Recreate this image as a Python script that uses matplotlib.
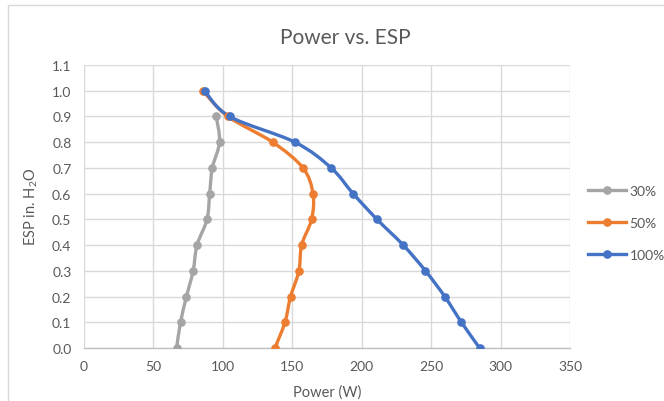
import numpy as np
import matplotlib
matplotlib.use("Agg")
import matplotlib.pyplot as plt
from matplotlib.path import Path
from matplotlib.patches import PathPatch, Rectangle
from matplotlib.lines import Line2D

plt.rcParams['font.family'] = ['Lato', 'DejaVu Sans']
plt.rcParams['mathtext.fontset'] = 'custom'
plt.rcParams['mathtext.rm'] = 'Lato'

# ESP (in. H2O) levels
esp_30 = [0.0, 0.1, 0.2, 0.3, 0.4, 0.5, 0.6, 0.7, 0.8, 0.9]
esp_50 = [0.0, 0.1, 0.2, 0.3, 0.4, 0.5, 0.6, 0.7, 0.8, 0.9, 1.0]
esp_100 = [0.0, 0.1, 0.2, 0.3, 0.4, 0.5, 0.6, 0.7, 0.8, 0.9, 1.0]

# Power (W)
power_30 = [66.7, 69.5, 73.8, 78.6, 81.4, 88.6, 90.5, 92.4, 97.6, 95.2]
power_50 = [137.5, 144.7, 148.8, 154.8, 156.7, 163.9, 164.9, 157.7, 135.9, 103.6, 85.5]
power_100 = [284.9, 271.8, 259.8, 245.9, 229.9, 211.0, 193.8, 178.0, 151.9, 104.8, 86.8]

labels = ["30%", "50%", "100%"]
colors = ["#A5A5A5", "#ED7D31", "#4472C4"]

TXT = "#595959"
GRID = "#D9D9D9"


def smooth_path(x, y):
    # Excel-style smoothed line as cubic Bezier segments (Catmull-Rom control points)
    pts = np.column_stack([x, y])
    n = len(pts)
    verts = [pts[0]]
    codes = [Path.MOVETO]
    for i in range(n - 1):
        p0 = pts[i - 1] if i > 0 else pts[i]
        p1 = pts[i]
        p2 = pts[i + 1]
        p3 = pts[i + 2] if i + 2 < n else pts[i + 1]
        c1 = p1 + (p2 - p0) / 6.0
        c2 = p2 - (p3 - p1) / 6.0
        verts += [c1, c2, p2]
        codes += [Path.CURVE4] * 3
    return Path(verts, codes)


W, H = 664, 402
fig = plt.figure(figsize=(W / 100, H / 100), dpi=100)
ax = fig.add_axes([84 / W, 1 - 349 / H, (570 - 84) / W, (349 - 66) / H])

# outer chart border (partly cut off in the reference)
fig.patches.append(Rectangle((8 / W, -0.1), 1.2, 1 - 6 / H + 0.1, transform=fig.transFigure,
                             fill=False, edgecolor=GRID, linewidth=1.0))

series = [(power_30, esp_30), (power_50, esp_50), (power_100, esp_100)]
for (px, py), c in zip(series, colors):
    ax.add_patch(PathPatch(smooth_path(px, py), facecolor="none", edgecolor=c,
                           linewidth=2.4, zorder=3, capstyle="round"))
    ax.plot(px, py, linestyle="none", marker="o", markersize=5.2, color=c, zorder=4)

ax.set_xlim(0, 350)
ax.set_ylim(0, 1.1)
ax.set_xticks(np.arange(0, 351, 50))
ax.set_yticks(np.round(np.arange(0, 1.11, 0.1), 1))
ax.set_yticklabels([f"{v:.1f}" for v in np.arange(0, 1.11, 0.1)])
ax.grid(True, color=GRID, linewidth=1.0)
ax.set_axisbelow(True)
for s in ["top", "right", "left"]:
    ax.spines[s].set_visible(False)
ax.spines["bottom"].set_color("#BFBFBF")
ax.spines["bottom"].set_linewidth(1.0)
ax.tick_params(length=0, labelsize=10, labelcolor=TXT, pad=9)

fig.text(345 / W, 1 - 38 / H, "Power vs. ESP", ha="center", va="center", fontsize=15, color=TXT)
fig.text(327 / W, 1 - 393 / H, "Power (W)", ha="center", va="center", fontsize=10.5, color=TXT)
fig.text(31 / W, 1 - 207 / H, r"ESP in. H$_\mathregular{2}$O", ha="center", va="center",
         rotation=90, fontsize=10.5, color=TXT)

handles = [Line2D([], [], color=c, linewidth=2.4, marker="o", markersize=5.2) for c in colors]
fig.legend(handles, labels, loc="upper left", bbox_to_anchor=(588 / W, 1 - 186 / H),
           frameon=False, fontsize=10, labelcolor=TXT, borderpad=0, borderaxespad=0,
           handlelength=2.7, handletextpad=0.3, labelspacing=1.45)

fig.savefig("out.png", dpi=100)
